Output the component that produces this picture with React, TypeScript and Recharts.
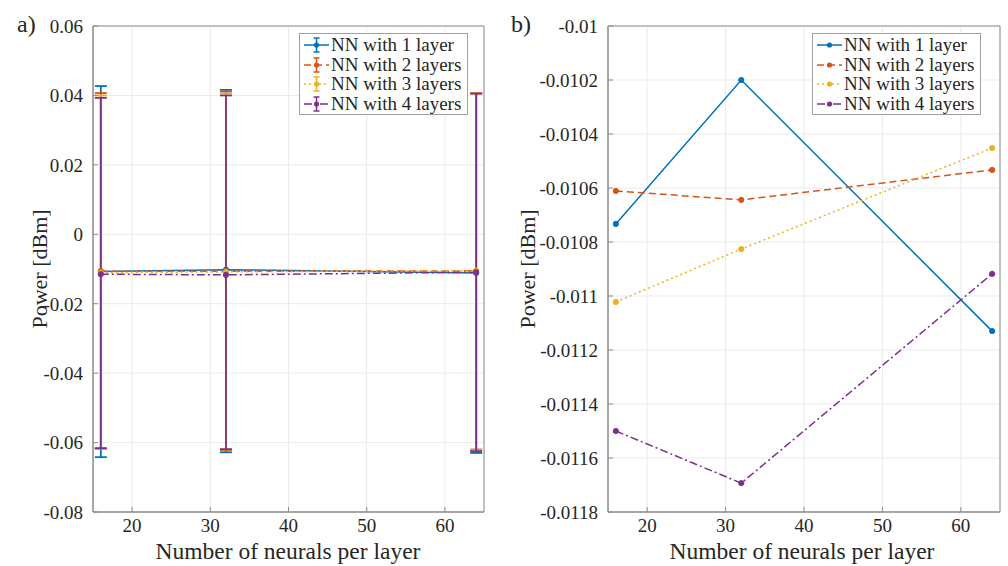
import React from "react";
import {
  LineChart,
  Line,
  XAxis,
  YAxis,
  CartesianGrid,
  ErrorBar,
  Legend,
  ReferenceArea,
} from "recharts";

// neurons per layer (x positions)
const neurons = [16, 32, 64];

// mean power per network depth [dBm]
const nn1 = [-0.010733, -0.0102, -0.01113];
const nn2 = [-0.010611, -0.010644, -0.010533];
const nn3 = [-0.011022, -0.010826, -0.010452];
const nn4 = [-0.0115, -0.011693, -0.010918];

// error bar ends (left panel)
const nn1Upper = [0.0427, 0.0416, 0.0407];
const nn1Lower = [-0.0642, -0.0628, -0.063];
const nn2Upper = [0.0407, 0.0411, 0.0407];
const nn2Lower = [-0.0618, -0.0622, -0.062];
const nn3Upper = [0.04, 0.0406, 0.0406];
const nn3Lower = [-0.0617, -0.062, -0.0622];
const nn4Upper = [0.0393, 0.04, 0.0405];
const nn4Lower = [-0.0616, -0.0619, -0.0625];

const seriesNames = ["NN with 1 layer", "NN with 2 layers", "NN with 3 layers", "NN with 4 layers"];

const xTicks = [20, 30, 40, 50, 60];
const leftYTicks = [0.06, 0.04, 0.02, 0, -0.02, -0.04, -0.06, -0.08];
const rightYTicks = [-0.01, -0.0102, -0.0104, -0.0106, -0.0108, -0.011, -0.0112, -0.0114, -0.0116, -0.0118];

const means = [nn1, nn2, nn3, nn4];
const uppers = [nn1Upper, nn2Upper, nn3Upper, nn4Upper];
const lowers = [nn1Lower, nn2Lower, nn3Lower, nn4Lower];

const COLORS = ["#0072BD", "#D95319", "#EDB120", "#7E2F8E"];
const DASHES = [undefined, "7 4", "2 3", "8 3 2 3"];
const FONT = "'Liberation Serif', 'DejaVu Serif', serif";
const TEXT = "#262626";
const AXIS = "#8c8c8c";

const rows = neurons.map((n, i) => {
  const row: Record<string, any> = { n };
  means.forEach((m, k) => {
    row[`s${k}`] = m[i];
    row[`e${k}`] = [m[i] - lowers[k][i], uppers[k][i] - m[i]];
  });
  return row;
});

const fmt = (v: number) => (v === 0 ? "0" : String(parseFloat(v.toFixed(4))));

const XTick = (props: any) => (
  <text x={props.x} y={props.y} dy="0.75em" textAnchor="middle" fill={TEXT} fontSize={19} fontFamily={FONT}>
    {fmt(props.payload.value)}
  </text>
);

const YTick = (props: any) => (
  <text x={props.x} y={props.y} dy="0.36em" textAnchor="end" fill={TEXT} fontSize={19} fontFamily={FONT}>
    {fmt(props.payload.value)}
  </text>
);

function LegendBox({ errorBars }: { errorBars: boolean }) {
  return (
    <div
      style={{
        border: "1px solid #a0a0a0",
        background: "#fff",
        padding: "1px 6px 1px 3px",
        fontFamily: FONT,
        fontSize: 19,
        color: TEXT,
        lineHeight: "19.5px",
      }}
    >
      {seriesNames.map((name, k) => (
        <div key={name} style={{ display: "flex", alignItems: "center", whiteSpace: "nowrap" }}>
          <svg width={27} height={19} style={{ marginRight: 1 }}>
            <line x1={1} x2={26} y1={10} y2={10} stroke={COLORS[k]} strokeWidth={1.5} strokeDasharray={DASHES[k]} />
            {errorBars && (
              <g stroke={COLORS[k]} strokeWidth={1.5}>
                <line x1={13.5} x2={13.5} y1={3} y2={17} />
                <line x1={10.5} x2={16.5} y1={3} y2={3} />
                <line x1={10.5} x2={16.5} y1={17} y2={17} />
              </g>
            )}
            <circle cx={13.5} cy={10} r={2.6} fill={COLORS[k]} />
          </svg>
          <span>{name}</span>
        </div>
      ))}
    </div>
  );
}

function Panel({
  errorBars,
  yDomain,
  yTicks,
  legendLeft,
}: {
  errorBars: boolean;
  yDomain: [number, number];
  yTicks: number[];
  legendLeft: number;
}) {
  const yWidth = errorBars ? 93 : 104;
  const rightMargin = errorBars ? 20 : 8;
  return (
    <LineChart
      width={504}
      height={566}
      data={rows}
      margin={{ top: 26, right: rightMargin, left: 0, bottom: 0 }}
    >
      <CartesianGrid stroke="#ebebeb" strokeWidth={1} />
      <XAxis
        dataKey="n"
        type="number"
        domain={[15, 65]}
        ticks={xTicks}
        allowDataOverflow
        height={54}
        stroke={AXIS}
        tickLine={{ stroke: AXIS }}
        tickSize={-5}
        tickMargin={11}
        tick={<XTick />}
      />
      <YAxis
        type="number"
        domain={yDomain}
        ticks={yTicks}
        allowDataOverflow
        width={yWidth}
        stroke={AXIS}
        tickLine={{ stroke: AXIS }}
        tickSize={-5}
        tickMargin={15}
        tick={<YTick />}
      />
      <ReferenceArea
        x1={15}
        x2={65}
        y1={yDomain[0]}
        y2={yDomain[1]}
        fill="none"
        stroke={AXIS}
        strokeWidth={1}
        ifOverflow="visible"
      />
      {means.map((_, k) => (
        <Line
          key={k}
          dataKey={`s${k}`}
          name={seriesNames[k]}
          stroke={COLORS[k]}
          strokeWidth={1.5}
          strokeDasharray={DASHES[k]}
          dot={{ r: 2.6, fill: COLORS[k], stroke: COLORS[k], strokeWidth: 1, strokeDasharray: "" }}
          activeDot={false}
          isAnimationActive={false}
        >
          {errorBars && (
            <ErrorBar
              dataKey={`e${k}`}
              direction="y"
              width={6}
              stroke={COLORS[k]}
              strokeWidth={1.8}
              isAnimationActive={false}
            />
          )}
        </Line>
      ))}
      <Legend
        layout="vertical"
        align="center"
        verticalAlign="middle"
        content={() => <LegendBox errorBars={errorBars} />}
        wrapperStyle={{ left: legendLeft, top: 33, width: "auto", right: "auto", bottom: "auto" }}
      />
    </LineChart>
  );
}

const labelStyle: React.CSSProperties = {
  position: "absolute",
  fontFamily: FONT,
  fontSize: 23.5,
  color: TEXT,
  whiteSpace: "nowrap",
  textAlign: "center",
  width: 300,
  lineHeight: "26px",
};

export default function App() {
  return (
    <div style={{ position: "absolute", left: 0, top: 0, width: 1008, height: 566, background: "#fff", overflow: "hidden", fontFamily: FONT }}>
      <div style={{ position: "absolute", left: 0, top: 0 }}>
        <Panel errorBars yDomain={[-0.08, 0.06]} yTicks={leftYTicks} legendLeft={299} />
      </div>
      <div style={{ position: "absolute", left: 504, top: 0 }}>
        <Panel errorBars={false} yDomain={[-0.0118, -0.01]} yTicks={rightYTicks} legendLeft={308} />
      </div>
      <div style={{ ...labelStyle, left: 17, top: 11, width: "auto", fontSize: 24 }}>a)</div>
      <div style={{ ...labelStyle, left: 511, top: 11, width: "auto", fontSize: 24 }}>b)</div>
      <div style={{ ...labelStyle, left: 288 - 150, top: 538 }}>Number of neurals per layer</div>
      <div style={{ ...labelStyle, left: 802 - 150, top: 538 }}>Number of neurals per layer</div>
      <div style={{ ...labelStyle, fontSize: 22, left: 40 - 150, top: 269 - 13, transform: "rotate(-90deg)" }}>Power [dBm]</div>
      <div style={{ ...labelStyle, fontSize: 22, left: 528 - 150, top: 269 - 13, transform: "rotate(-90deg)" }}>Power [dBm]</div>
    </div>
  );
}
